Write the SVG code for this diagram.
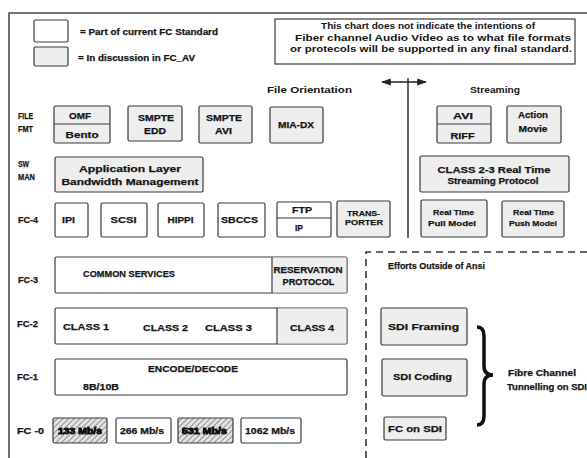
<svg xmlns="http://www.w3.org/2000/svg" width="587" height="458" viewBox="0 0 587 458">
  <defs>
    <style>
      .box { fill:#ffffff; stroke:#3a3a3a; stroke-width:1.2; }
      .gray { fill:#eeeeee; }
      .div { stroke:#3a3a3a; stroke-width:1.2; fill:none; }
      text { font-family:"Liberation Sans", Arial, sans-serif; font-weight:bold; fill:#151515; }
      .h { stroke:#151515; stroke-width:0.25; }
      .c { text-anchor:middle; }
      .f10 { font-size:10px; }
      .f9 { font-size:9.5px; }
      .f8 { font-size:8.5px; }
      .f7 { font-size:8px; }
      .row { font-size:9px; }
      .frame { stroke:#444; stroke-width:1.5; fill:none; }
      .dash { stroke:#333; stroke-width:1.6; fill:none; stroke-dasharray:7 5; }
      .hatchbox { fill:url(#hatch); stroke:#3a3a3a; stroke-width:1.2; }
      .blur { fill:#111; stroke:#111; stroke-width:0.9; filter:url(#soft); }
    </style>
    <pattern id="hatch" width="4" height="4" patternUnits="userSpaceOnUse" patternTransform="rotate(45)">
      <rect width="4" height="4" fill="#e2e2e2"/>
      <line x1="0" y1="0" x2="0" y2="4" stroke="#777" stroke-width="1.5"/>
    </pattern>
    <filter id="soft" x="-10%" y="-40%" width="120%" height="180%">
      <feGaussianBlur stdDeviation="0.6"/>
    </filter>
    <marker id="ah" viewBox="0 0 10 10" refX="9" refY="5" markerWidth="7" markerHeight="7" orient="auto-start-reverse">
      <path d="M0,1.5 L10,5 L0,8.5 Z" fill="#222"/>
    </marker>
  </defs>

  <rect width="587" height="458" fill="#ffffff"/>

  <!-- outer frame -->
  <path class="frame" d="M9,458 L9,13 L587,13"/>

  <!-- legend -->
  <g id="legend">
    <rect class="box" x="34" y="20" width="34" height="22" rx="1.5"/>
    <text class="f9 h" x="80" y="35" textLength="138" lengthAdjust="spacingAndGlyphs">= Part of current FC Standard</text>
    <rect class="box gray" x="34" y="47" width="34" height="19" rx="1.5"/>
    <text class="f9 h" x="78" y="61" textLength="117" lengthAdjust="spacingAndGlyphs">= In discussion in FC_AV</text>
  </g>

  <!-- disclaimer -->
  <g id="note">
    <rect class="box" x="275" y="19" width="300" height="45"/>
    <text class="f8 c" x="428" y="29" textLength="214" lengthAdjust="spacingAndGlyphs">This chart does not indicate the intentions of</text>
    <text class="f8 c" x="433" y="41" textLength="276" lengthAdjust="spacingAndGlyphs">Fiber channel Audio Video as to what file formats</text>
    <text class="f8 c" x="431" y="52" textLength="282" lengthAdjust="spacingAndGlyphs">or protecols will be supported in any final standard.</text>
  </g>

  <!-- column headings -->
  <g id="headings">
    <text class="f9" x="267" y="93" textLength="85" lengthAdjust="spacingAndGlyphs">File Orientation</text>
    <text class="f9" x="470" y="93" textLength="50" lengthAdjust="spacingAndGlyphs">Streaming</text>
  </g>

  <!-- row labels -->
  <g id="row-labels">
    <text class="row h" x="18" y="119" textLength="15" lengthAdjust="spacingAndGlyphs">FILE</text>
    <text class="row h" x="18" y="132" textLength="15" lengthAdjust="spacingAndGlyphs">FMT</text>
    <text class="row h" x="18" y="167" textLength="11" lengthAdjust="spacingAndGlyphs">SW</text>
    <text class="row h" x="18" y="180" textLength="17" lengthAdjust="spacingAndGlyphs">MAN</text>
    <text class="row h" x="18" y="223" textLength="20" lengthAdjust="spacingAndGlyphs">FC-4</text>
    <text class="row h" x="18" y="283" textLength="20" lengthAdjust="spacingAndGlyphs">FC-3</text>
    <text class="row h" x="17" y="327" textLength="21" lengthAdjust="spacingAndGlyphs">FC-2</text>
    <text class="row h" x="17" y="380" textLength="21" lengthAdjust="spacingAndGlyphs">FC-1</text>
    <text class="row h" x="17" y="434" textLength="27" lengthAdjust="spacingAndGlyphs">FC -0</text>
  </g>

  <!-- connectors: orientation divider -->
  <g id="connectors">
    <line x1="408" y1="78" x2="408" y2="238" stroke="#222" stroke-width="1.4"/>
    <line x1="382" y1="82" x2="426" y2="82" stroke="#222" stroke-width="1.4" marker-start="url(#ah)" marker-end="url(#ah)"/>
  </g>

  <!-- file format row -->
  <g id="omf-bento">
    <rect class="box gray" x="54" y="106" width="56" height="37" rx="1.5"/>
    <line class="div" x1="54" y1="124" x2="110" y2="124"/>
    <text class="f9 c h" x="80" y="119" textLength="22" lengthAdjust="spacingAndGlyphs">OMF</text>
    <text class="f9 c h" x="82" y="138" textLength="33" lengthAdjust="spacingAndGlyphs">Bento</text>
  </g>
  <g id="smpte-edd">
    <rect class="box gray" x="128" y="106" width="54" height="35" rx="1.5"/>
    <text class="f8 c h" x="156" y="121" textLength="36" lengthAdjust="spacingAndGlyphs">SMPTE</text>
    <text class="f8 c h" x="155" y="134" textLength="22" lengthAdjust="spacingAndGlyphs">EDD</text>
  </g>
  <g id="smpte-avi">
    <rect class="box gray" x="199" y="106" width="53" height="37" rx="1.5"/>
    <text class="f8 c h" x="224" y="121" textLength="36" lengthAdjust="spacingAndGlyphs">SMPTE</text>
    <text class="f8 c h" x="223.5" y="134" textLength="17" lengthAdjust="spacingAndGlyphs">AVI</text>
  </g>
  <g id="mia-dx">
    <rect class="box gray" x="270" y="107" width="53" height="36" rx="1.5"/>
    <text class="f8 c h" x="296" y="128" textLength="36" lengthAdjust="spacingAndGlyphs">MIA-DX</text>
  </g>
  <g id="avi-riff">
    <rect class="box gray" x="437" y="106" width="54" height="37" rx="1.5"/>
    <line class="div" x1="437" y1="124" x2="491" y2="124"/>
    <text class="f9 c h" x="463" y="119" textLength="20" lengthAdjust="spacingAndGlyphs">AVI</text>
    <text class="f9 c h" x="462.5" y="139" textLength="24" lengthAdjust="spacingAndGlyphs">RIFF</text>
  </g>
  <g id="action-movie">
    <rect class="box gray" x="507" y="106" width="54" height="37" rx="1.5"/>
    <text class="f9 c h" x="533" y="118" textLength="30" lengthAdjust="spacingAndGlyphs">Action</text>
    <text class="f9 c h" x="533" y="132" textLength="29" lengthAdjust="spacingAndGlyphs">Movie</text>
  </g>

  <!-- software management row -->
  <g id="bandwidth-mgmt">
    <rect class="box gray" x="55" y="157" width="148" height="35" rx="1.5"/>
    <text class="f9 c h" x="130" y="172" textLength="102" lengthAdjust="spacingAndGlyphs">Application Layer</text>
    <text class="f9 c h" x="130" y="185" textLength="137" lengthAdjust="spacingAndGlyphs">Bandwidth Management</text>
  </g>
  <g id="class23-rt">
    <rect class="box gray" x="420" y="156" width="149" height="36" rx="1.5"/>
    <text class="f9 c h" x="494" y="173" textLength="113" lengthAdjust="spacingAndGlyphs">CLASS 2-3 Real Time</text>
    <text class="f8 c h" x="493" y="184" textLength="91" lengthAdjust="spacingAndGlyphs">Streaming Protocol</text>
  </g>

  <!-- FC-4 row -->
  <g id="ipi">
    <rect class="box" x="55" y="203" width="33" height="34" rx="1.5"/>
    <text class="f9 c h" x="68.5" y="223" textLength="13" lengthAdjust="spacingAndGlyphs">IPI</text>
  </g>
  <g id="scsi">
    <rect class="box" x="101" y="203" width="46" height="34" rx="1.5"/>
    <text class="f9 c h" x="123.5" y="223" textLength="26" lengthAdjust="spacingAndGlyphs">SCSI</text>
  </g>
  <g id="hippi">
    <rect class="box" x="158" y="203" width="46" height="34" rx="1.5"/>
    <text class="f9 c h" x="180.5" y="223" textLength="26" lengthAdjust="spacingAndGlyphs">HIPPI</text>
  </g>
  <g id="sbccs">
    <rect class="box" x="218" y="203" width="47" height="34" rx="1.5"/>
    <text class="f9 c h" x="239.5" y="223" textLength="37" lengthAdjust="spacingAndGlyphs">SBCCS</text>
  </g>
  <g id="ftp-ip">
    <rect class="box" x="277" y="202" width="54" height="35" rx="1.5"/>
    <line class="div" x1="277" y1="218" x2="331" y2="218"/>
    <text class="f8 c h" x="302" y="213" textLength="20" lengthAdjust="spacingAndGlyphs">FTP</text>
    <text class="f8 c h" x="299" y="231" textLength="8" lengthAdjust="spacingAndGlyphs">IP</text>
  </g>
  <g id="transporter">
    <rect class="box gray" x="337" y="201" width="53" height="36" rx="1.5"/>
    <text class="f7 c h" x="363.5" y="216" textLength="33" lengthAdjust="spacingAndGlyphs">TRANS-</text>
    <text class="f7 c h" x="364" y="225" textLength="38" lengthAdjust="spacingAndGlyphs">PORTER</text>
  </g>
  <g id="rt-pull">
    <rect class="box gray" x="421" y="200" width="66" height="37" rx="1.5"/>
    <text class="f7 c h" x="453.5" y="215" textLength="41" lengthAdjust="spacingAndGlyphs">Real Time</text>
    <text class="f7 c h" x="452" y="226" textLength="48" lengthAdjust="spacingAndGlyphs">Pull Model</text>
  </g>
  <g id="rt-push">
    <rect class="box gray" x="502" y="201" width="62" height="36" rx="1.5"/>
    <text class="f7 c h" x="533.5" y="215" textLength="41" lengthAdjust="spacingAndGlyphs">Real Time</text>
    <text class="f7 c h" x="533" y="226" textLength="48" lengthAdjust="spacingAndGlyphs">Push Model</text>
  </g>

  <!-- FC-3 row -->
  <g id="fc3">
    <rect class="box" x="55" y="257" width="292" height="36" rx="1.5"/>
    <rect class="gray" x="272.6" y="257.6" width="73.8" height="34.8"/>
    <line class="div" x1="272" y1="257" x2="272" y2="293"/>
    <text class="f9 h" x="83" y="277" textLength="92" lengthAdjust="spacingAndGlyphs">COMMON SERVICES</text>
    <text class="f8 c h" x="308" y="273" textLength="69" lengthAdjust="spacingAndGlyphs">RESERVATION</text>
    <text class="f8 c h" x="308.5" y="285" textLength="52" lengthAdjust="spacingAndGlyphs">PROTOCOL</text>
  </g>

  <!-- FC-2 row -->
  <g id="fc2">
    <rect class="box" x="55" y="308" width="292" height="36" rx="1.5"/>
    <rect class="gray" x="277.6" y="308.6" width="68.8" height="34.8"/>
    <line class="div" x1="277" y1="308" x2="277" y2="344"/>
    <text class="f9 h" x="63" y="330" textLength="46" lengthAdjust="spacingAndGlyphs">CLASS 1</text>
    <text class="f9 h" x="143" y="331" textLength="45" lengthAdjust="spacingAndGlyphs">CLASS 2</text>
    <text class="f9 h" x="205" y="331" textLength="47" lengthAdjust="spacingAndGlyphs">CLASS 3</text>
    <text class="f8 h" x="290" y="331" textLength="44" lengthAdjust="spacingAndGlyphs">CLASS 4</text>
  </g>

  <!-- FC-1 row -->
  <g id="fc1">
    <rect class="box" x="55" y="359" width="292" height="36" rx="1.5"/>
    <text class="f9 h" x="148" y="372" textLength="90" lengthAdjust="spacingAndGlyphs">ENCODE/DECODE</text>
    <text class="f8 h" x="83" y="390" textLength="36" lengthAdjust="spacingAndGlyphs">8B/10B</text>
  </g>

  <!-- FC-0 row -->
  <g id="speed-133">
    <rect class="hatchbox" x="53" y="418" width="54" height="25" rx="1.5"/>
    <text class="f8 blur" x="58" y="434" textLength="44" lengthAdjust="spacingAndGlyphs">133 Mb/s</text>
  </g>
  <g id="speed-266">
    <rect class="box" x="116" y="418" width="55" height="25" rx="1.5"/>
    <text class="f8 h" x="120" y="434" textLength="44" lengthAdjust="spacingAndGlyphs">266 Mb/s</text>
  </g>
  <g id="speed-531">
    <rect class="hatchbox" x="178" y="418" width="55" height="25" rx="1.5"/>
    <text class="f8 blur" x="182" y="434" textLength="45" lengthAdjust="spacingAndGlyphs">531 Mb/s</text>
  </g>
  <g id="speed-1062">
    <rect class="box" x="241" y="418" width="60" height="25" rx="1.5"/>
    <text class="f8 h" x="245" y="434" textLength="50" lengthAdjust="spacingAndGlyphs">1062 Mb/s</text>
  </g>

  <!-- outside ANSI region -->
  <g id="outside-ansi">
    <path class="dash" d="M366,458 L366,252 L587,252"/>
    <text class="f9 h" x="388" y="269" textLength="97" lengthAdjust="spacingAndGlyphs">Efforts Outside of Ansi</text>
  </g>
  <g id="sdi-framing">
    <rect class="box gray" x="381" y="308" width="86" height="37" rx="1.5"/>
    <text class="f9 h" x="388" y="330" textLength="71" lengthAdjust="spacingAndGlyphs">SDI Framing</text>
  </g>
  <g id="sdi-coding">
    <rect class="box gray" x="382" y="359" width="85" height="37" rx="1.5"/>
    <text class="f9 h" x="393" y="380" textLength="59" lengthAdjust="spacingAndGlyphs">SDI Coding</text>
  </g>
  <g id="fc-on-sdi">
    <rect class="box gray" x="384" y="417" width="62" height="23" rx="1.5"/>
    <text class="f8 h" x="388" y="432" textLength="54" lengthAdjust="spacingAndGlyphs">FC on SDI</text>
  </g>
  <g id="tunnelling">
    <path d="M477,327 Q484,327 484,336 L484,366 Q484,375 493,375 Q484,375 484,384 L484,416 Q484,425 477,425" fill="none" stroke="#111" stroke-width="3.5"/>
    <text class="f8 h" x="508" y="376" textLength="68" lengthAdjust="spacingAndGlyphs">Fibre Channel</text>
    <text class="f8 h" x="507" y="390" textLength="80" lengthAdjust="spacingAndGlyphs">Tunnelling on SDI</text>
  </g>
</svg>
